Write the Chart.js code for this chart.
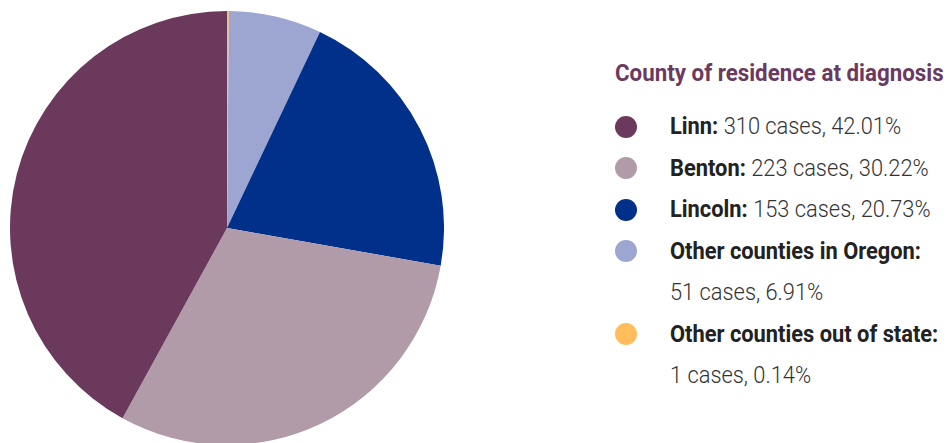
<!DOCTYPE html>
<html>
<head>
<meta charset="utf-8">
<script src="https://cdn.jsdelivr.net/npm/chart.js@4/dist/chart.umd.min.js"></script>
<style>
  html, body { margin: 0; padding: 0; background: #fff; overflow: hidden; }
  body { width: 948px; height: 443px; position: relative; font-family: Roboto, "Noto Sans", sans-serif; }
  #pieWrap { position: absolute; left: 10px; top: 11px; width: 434px; height: 434px; }
  #legend { position: absolute; left: 615px; top: 58px; width: 400px; }
  #legend h3 { margin: 0; font-size: 24px; font-weight: 700; color: #6b3a5e; line-height: 30px;
    transform: scaleX(0.93); transform-origin: left center; white-space: nowrap; }
  .item { position: relative; padding-left: 55px; font-size: 24px; line-height: 41.5px; color: #333; }
  .dot { position: absolute; left: 0; top: 9.5px; width: 22px; height: 22px; border-radius: 50%; }
  .txt { transform: scaleX(0.91); transform-origin: left center; white-space: nowrap; }
  .txt b { color: #222; font-weight: 700; }
  .txt span { font-weight: 300; }
</style>
</head>
<body>
<div id="pieWrap"><canvas id="pie"></canvas></div>
<div id="legend">
  <h3>County of residence at diagnosis</h3>
  <div id="items" style="margin-top:18px"></div>
</div>
<script>
const counties = ['Linn', 'Benton', 'Lincoln', 'Other counties in Oregon', 'Other counties out of state'];
const cases = [310, 223, 153, 51, 1];
const percents = ['42.01%', '30.22%', '20.73%', '6.91%', '0.14%'];
const colors = ['#6b395c', '#b29ba9', '#00308a', '#9ca6d1', '#ffbd5c'];
const wrapped = [false, false, false, true, true];

// legend
const items = document.getElementById('items');
counties.forEach((c, i) => {
  const div = document.createElement('div');
  div.className = 'item';
  const info = cases[i] + ' cases, ' + percents[i];
  div.innerHTML = '<div class="dot" style="background:' + colors[i] + '"></div>' +
    (wrapped[i]
      ? '<div class="txt"><b>' + c + ':</b></div><div class="txt"><span>' + info + '</span></div>'
      : '<div class="txt"><b>' + c + ':</b> <span>' + info + '</span></div>');
  items.appendChild(div);
});

// pie goes clockwise from the top in reverse legend order
const order = [4, 3, 2, 1, 0];
new Chart(document.getElementById('pie').getContext('2d'), {
  type: 'pie',
  data: {
    labels: order.map(i => counties[i]),
    datasets: [{
      data: order.map(i => cases[i]),
      backgroundColor: order.map(i => colors[i]),
      borderWidth: 0
    }]
  },
  options: {
    responsive: true,
    maintainAspectRatio: false,
    animation: false,
    layout: { padding: 0 },
    plugins: {
      legend: { display: false },
      tooltip: { enabled: false }
    }
  }
});
</script>
</body>
</html>
